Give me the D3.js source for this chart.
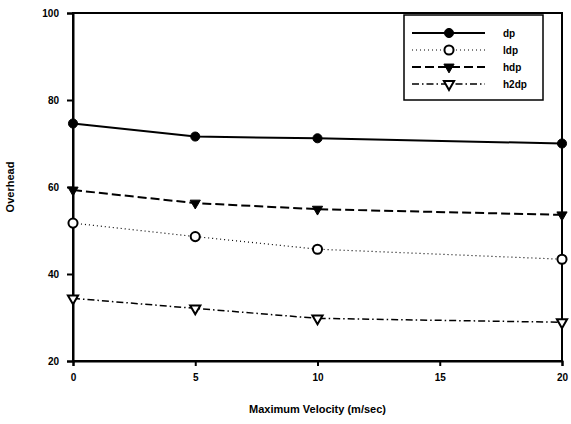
<!DOCTYPE html>
<html>
<head>
<meta charset="utf-8">
<script src="https://cdn.jsdelivr.net/npm/d3@7"></script>
<style>
body { margin: 0; background: #fff; }
text { font-family: "Liberation Sans", Arial, sans-serif; font-weight: bold; fill: #000; }
</style>
</head>
<body>
<script>
// data
var velocity = [0, 5, 10, 20];
var dp   = [74.6, 71.6, 71.2, 70.0];
var ldp  = [51.7, 48.6, 45.7, 43.4];
var hdp  = [59.3, 56.3, 54.9, 53.6];
var h2dp = [34.4, 32.1, 29.8, 28.9];
var seriesNames = ["dp", "ldp", "hdp", "h2dp"];
var xTicks = [0, 5, 10, 15, 20];
var yTicks = [20, 40, 60, 80, 100];

var margin = { top: 13, right: 9, bottom: 63, left: 73 },
    width = 571 - margin.left - margin.right,
    height = 424 - margin.top - margin.bottom;

var x = d3.scaleLinear().domain([0, 20]).range([0, width]);
var y = d3.scaleLinear().domain([20, 100]).range([height, 0]);

var svg = d3.select("body").append("svg")
    .attr("width", 571)
    .attr("height", 424);

var g = svg.append("g")
    .attr("transform", "translate(" + margin.left + "," + margin.top + ")");

// frame
g.append("rect")
    .attr("width", width).attr("height", height)
    .attr("fill", "none").attr("stroke", "#000").attr("stroke-width", 2);

// axes
var xAxis = g.append("g")
    .attr("transform", "translate(0," + height + ")")
    .call(d3.axisBottom(x).tickValues(xTicks).tickSize(5).tickPadding(8));
var yAxis = g.append("g")
    .call(d3.axisLeft(y).tickValues(yTicks).tickSize(6).tickPadding(8));
[xAxis, yAxis].forEach(function (a) {
    a.select(".domain").attr("stroke-width", 2);
    a.selectAll(".tick line").attr("stroke-width", 2);
    a.selectAll(".tick text").style("font-size", "10px");
});

// axis titles
svg.append("text")
    .attr("x", margin.left + width / 2).attr("y", 413)
    .attr("text-anchor", "middle").style("font-size", "11px")
    .text("Maximum Velocity (m/sec)");
svg.append("text")
    .attr("transform", "translate(14," + (margin.top + height / 2) + ") rotate(-90)")
    .attr("text-anchor", "middle").style("font-size", "11px")
    .text("Overhead");

var styles = {
    dp:   { data: dp,   dash: null,      sw: 2,   marker: "circle",   fill: "#000" },
    ldp:  { data: ldp,  dash: "1,3",     sw: 1.2, marker: "circle",   fill: "#fff" },
    hdp:  { data: hdp,  dash: "9,4",     sw: 2,   marker: "triangle", fill: "#000" },
    h2dp: { data: h2dp, dash: "7,3,1.5,3", sw: 1.5, marker: "triangle", fill: "#fff" }
};

var circleSym = d3.symbol().type(d3.symbolCircle).size(65);
var triSym = d3.symbol().type(d3.symbolTriangle).size(45);

function drawMarker(sel, name, cx, cy) {
    var s = styles[name];
    sel.append("path")
        .attr("d", s.marker === "circle" ? circleSym() : triSym())
        .attr("transform", "translate(" + cx + "," + cy + ")" + (s.marker === "triangle" ? " rotate(180)" : ""))
        .attr("fill", s.fill)
        .attr("stroke", "#000")
        .attr("stroke-width", s.fill === "#fff" ? 2 : 1);
}

var line = d3.line()
    .x(function (d, i) { return x(velocity[i]); })
    .y(function (d) { return y(d); });

seriesNames.forEach(function (name) {
    var s = styles[name];
    g.append("path")
        .datum(s.data)
        .attr("d", line)
        .attr("fill", "none")
        .attr("stroke", "#000")
        .attr("stroke-width", s.sw)
        .attr("stroke-dasharray", s.dash);
    s.data.forEach(function (v, i) {
        drawMarker(g, name, x(velocity[i]), y(v));
    });
});

// legend
var legend = svg.append("g").attr("transform", "translate(404,15)");
legend.append("rect")
    .attr("width", 139).attr("height", 85)
    .attr("fill", "#fff").attr("stroke", "#000").attr("stroke-width", 1.5);

seriesNames.forEach(function (name, i) {
    var s = styles[name];
    var ly = 18 + i * 17;
    legend.append("line")
        .attr("x1", 8).attr("x2", 81).attr("y1", ly).attr("y2", ly)
        .attr("stroke", "#000")
        .attr("stroke-width", s.sw)
        .attr("stroke-dasharray", s.dash);
    drawMarker(legend, name, 45, ly);
    legend.append("text")
        .attr("x", 99).attr("y", ly + 4)
        .style("font-size", "10px")
        .text(name);
});
</script>
</body>
</html>
